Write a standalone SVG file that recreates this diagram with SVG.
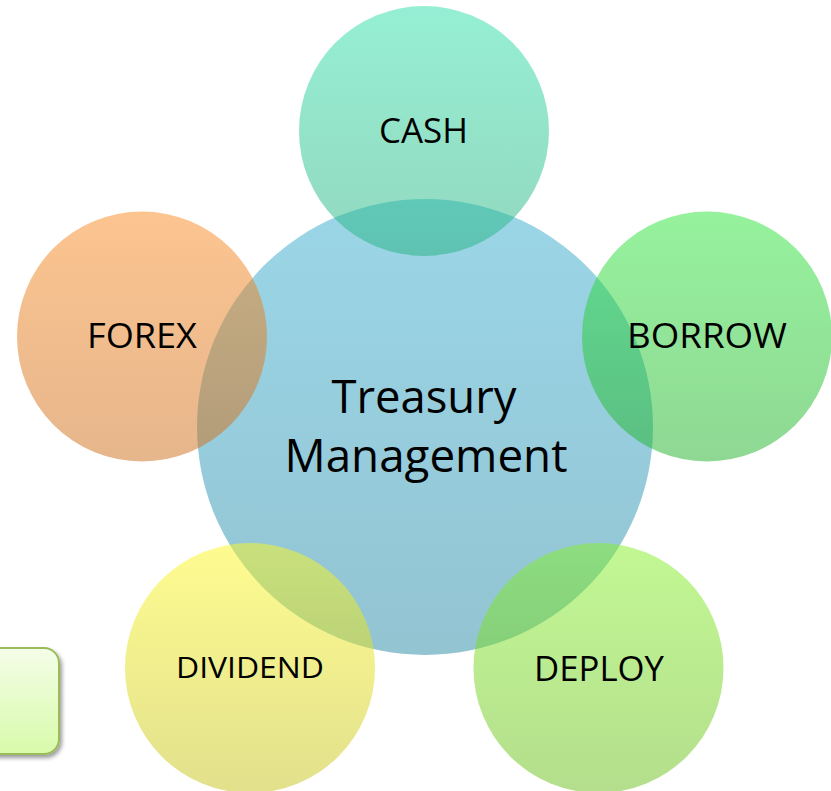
<svg xmlns="http://www.w3.org/2000/svg" width="831" height="791" viewBox="0 0 831 791">
  <defs>
    <linearGradient id="gCenter" x1="0" y1="0" x2="0" y2="1">
      <stop offset="0" stop-color="#37add0"/>
      <stop offset="1" stop-color="#2789a5"/>
    </linearGradient>
    <linearGradient id="gCash" x1="0" y1="0" x2="0" y2="1">
      <stop offset="0" stop-color="#2ddfa8"/>
      <stop offset="1" stop-color="#25b17f"/>
    </linearGradient>
    <linearGradient id="gBorrow" x1="0" y1="0" x2="0" y2="1">
      <stop offset="0" stop-color="#2de53b"/>
      <stop offset="1" stop-color="#1fb129"/>
    </linearGradient>
    <linearGradient id="gForex" x1="0" y1="0" x2="0" y2="1">
      <stop offset="0" stop-color="#f98a21"/>
      <stop offset="1" stop-color="#cd6d19"/>
    </linearGradient>
    <linearGradient id="gDividend" x1="0" y1="0" x2="0" y2="1">
      <stop offset="0" stop-color="#fdf921"/>
      <stop offset="1" stop-color="#c5c119"/>
    </linearGradient>
    <linearGradient id="gDeploy" x1="0" y1="0" x2="0" y2="1">
      <stop offset="0" stop-color="#85f129"/>
      <stop offset="1" stop-color="#69bd19"/>
    </linearGradient>
    <linearGradient id="gBox" x1="0" y1="0" x2="0" y2="1">
      <stop offset="0" stop-color="#f4fde8"/>
      <stop offset="1" stop-color="#d8fbaa"/>
    </linearGradient>
    <filter id="shadow" x="-20%" y="-20%" width="150%" height="150%">
      <feGaussianBlur in="SourceAlpha" stdDeviation="2"/>
      <feOffset dx="2" dy="3" result="b"/>
      <feComponentTransfer><feFuncA type="linear" slope="0.4"/></feComponentTransfer>
      <feMerge><feMergeNode/><feMergeNode in="SourceGraphic"/></feMerge>
    </filter>
  </defs>
  <style>
    .c { fill-opacity: 0.5; }
    .t { font-family: "Open Sans", "Noto Sans", "Liberation Sans", sans-serif; fill: #000; text-anchor: middle; }
    .s { font-size: 35px; }
  </style>
  <rect width="831" height="791" fill="#ffffff"/>
  <g id="connectors"/>
  <g id="box">
    <rect x="-20" y="648" width="79" height="106" rx="15" ry="15" fill="url(#gBox)" stroke="#9bbb59" stroke-width="2" filter="url(#shadow)"/>
  </g>
  <g id="center">
    <circle class="c" cx="425" cy="427" r="228" fill="url(#gCenter)"/>
    <text class="t" x="424" y="413" font-size="46" textLength="185" lengthAdjust="spacingAndGlyphs">Treasury</text>
    <text class="t" x="426" y="472" font-size="46" textLength="283" lengthAdjust="spacingAndGlyphs">Management</text>
  </g>
  <g id="cash">
    <circle class="c" cx="424" cy="131" r="125" fill="url(#gCash)"/>
    <text class="t s" x="423.5" y="143" textLength="89" lengthAdjust="spacingAndGlyphs">CASH</text>
  </g>
  <g id="borrow">
    <circle class="c" cx="707" cy="336.5" r="125" fill="url(#gBorrow)"/>
    <text class="t s" x="707" y="348" textLength="160" lengthAdjust="spacingAndGlyphs">BORROW</text>
  </g>
  <g id="forex">
    <circle class="c" cx="142" cy="336.5" r="125" fill="url(#gForex)"/>
    <text class="t s" x="142" y="348" textLength="110" lengthAdjust="spacingAndGlyphs">FOREX</text>
  </g>
  <g id="dividend">
    <circle class="c" cx="250" cy="668" r="125" fill="url(#gDividend)"/>
    <text class="t" x="250" y="678" font-size="30" textLength="148" lengthAdjust="spacingAndGlyphs">DIVIDEND</text>
  </g>
  <g id="deploy">
    <circle class="c" cx="598.5" cy="668" r="125" fill="url(#gDeploy)"/>
    <text class="t s" x="599" y="681" textLength="130" lengthAdjust="spacingAndGlyphs">DEPLOY</text>
  </g>
</svg>
